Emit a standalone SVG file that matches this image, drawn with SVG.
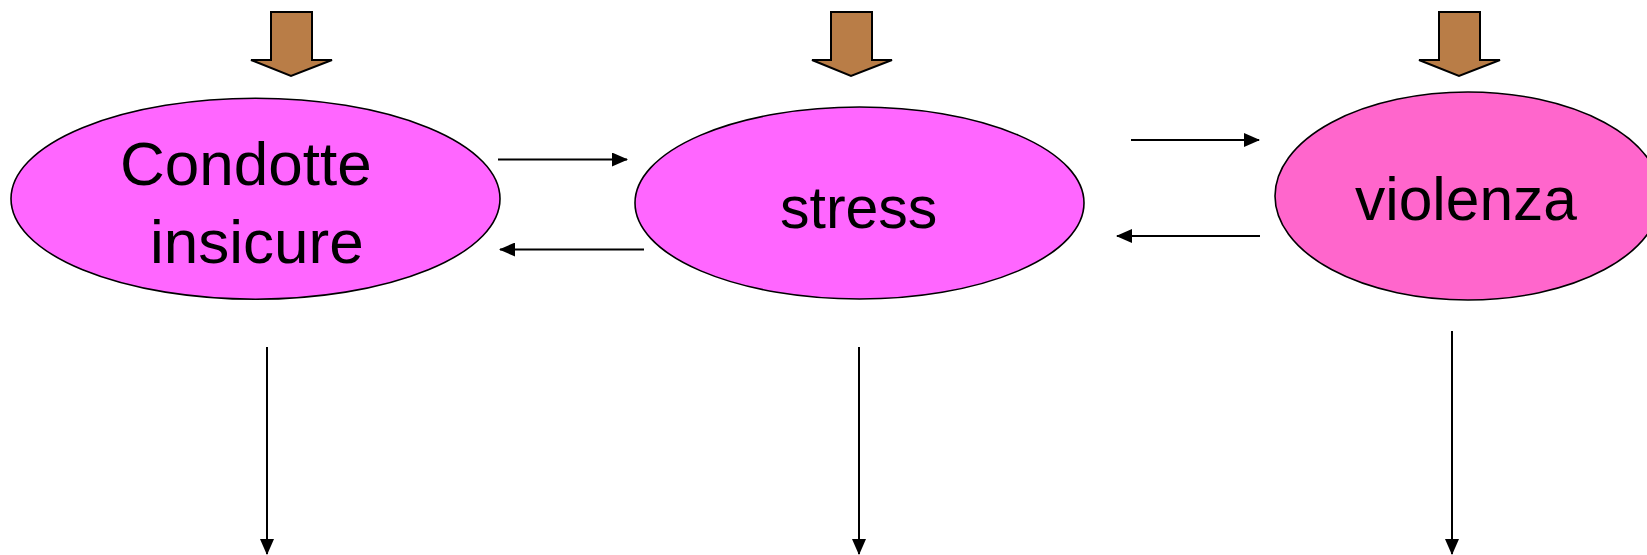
<svg xmlns="http://www.w3.org/2000/svg" width="1647" height="555" viewBox="0 0 1647 555">
  <defs>
    <marker id="head" markerUnits="userSpaceOnUse" markerWidth="16" markerHeight="14" refX="15" refY="7" orient="auto">
      <path d="M0,0 L16,7 L0,14 Z" fill="#000"/>
    </marker>
    <style>
      .node { stroke: #000; stroke-width: 1.6; }
      .label { font-family: "Liberation Sans", Arial, sans-serif; fill: #000; }
      .push { fill: #B97D47; stroke: #000; stroke-width: 2; stroke-linejoin: miter; }
      .link { stroke: #000; stroke-width: 2; fill: none; marker-end: url(#head); }
    </style>
  </defs>
  <rect width="1647" height="555" fill="#fff"/>

  <!-- input arrows on top -->
  <g id="push-condotte">
    <path class="push" d="M271,12 H312 V60 H332 L291,76 L251,60 H271 Z"/>
  </g>
  <g id="push-stress">
    <path class="push" d="M831,12 H872 V60 H892 L851,76 L812,60 H831 Z"/>
  </g>
  <g id="push-violenza">
    <path class="push" d="M1439,12 H1480 V60 H1500 L1459,76 L1419,60 H1439 Z"/>
  </g>

  <g id="node-condotte">
    <ellipse class="node" cx="255.5" cy="198.7" rx="244.5" ry="100.5" fill="#FF66FF"/>
    <text class="label" x="120" y="185" font-size="62">Condotte</text>
    <text class="label" x="150" y="263" font-size="62">insicure</text>
  </g>

  <g id="node-stress">
    <ellipse class="node" cx="859.5" cy="203" rx="224.5" ry="96" fill="#FF66FF"/>
    <text class="label" x="780" y="228" font-size="59">stress</text>
  </g>

  <g id="node-violenza">
    <ellipse class="node" cx="1468" cy="196" rx="193" ry="104" fill="#FF66CC"/>
    <text class="label" x="1355" y="220" font-size="60.5">violenza</text>
  </g>

  <g id="connectors">
    <line class="link" x1="498" y1="159.5" x2="627" y2="159.5"/>
    <line class="link" x1="644" y1="249.5" x2="500" y2="249.5"/>
    <line class="link" x1="1131" y1="140" x2="1259" y2="140"/>
    <line class="link" x1="1260" y1="236" x2="1117" y2="236"/>
    <line class="link" x1="267" y1="347" x2="267" y2="554"/>
    <line class="link" x1="859" y1="347" x2="859" y2="554"/>
    <line class="link" x1="1452" y1="331" x2="1452" y2="554"/>
  </g>
</svg>
